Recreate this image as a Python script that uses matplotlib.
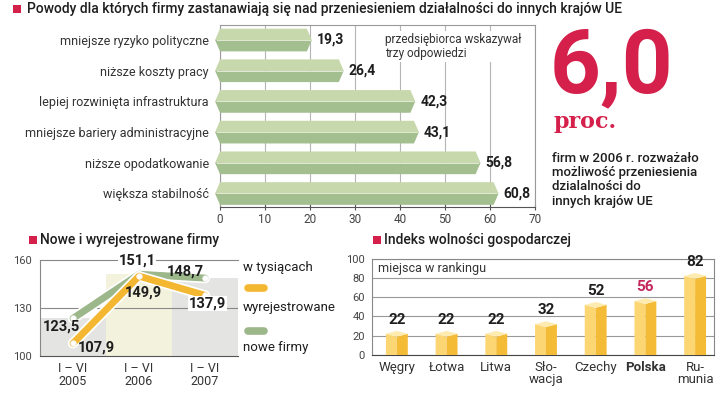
import matplotlib.pyplot as plt
import matplotlib.patheffects as pe
from matplotlib.patches import Polygon, Rectangle
from matplotlib.lines import Line2D

plt.rcParams['font.family'] = ['Roboto', 'DejaVu Sans']

# Powody przeniesienia działalności (%)
reasons = ["mniejsze ryzyko polityczne", "niższe koszty pracy",
           "lepiej rozwinięta infrastruktura", "mniejsze bariery administracyjne",
           "niższe opodatkowanie", "większa stabilność"]
reason_vals = [19.3, 26.4, 42.3, 43.1, 56.8, 60.8]

# Nowe i wyrejestrowane firmy (tys.)
periods = ["I – VI\n2005", "I – VI\n2006", "I – VI\n2007"]
new_firms = [123.5, 151.1, 148.7]
deregistered = [107.9, 149.9, 137.9]

# Indeks wolności gospodarczej
countries = ["Węgry", "Łotwa", "Litwa", "Sło-\nwacja", "Czechy", "Polska", "Ru-\nmunia"]
rank = [22, 22, 22, 32, 52, 56, 82]

W, H = 720, 394
RED = '#d4204b'
GREEN = '#9cb88a'
ORANGE = '#f4b731'
TXT = '#1e1e1e'

fig = plt.figure(figsize=(7.2, 3.94), dpi=100)


def box(l, t, r, b):
    return fig.add_axes([l / W, 1 - b / H, (r - l) / W, (b - t) / H])


def ftext(x, y, s, **kw):
    return fig.text(x / W, 1 - y / H, s, **kw)


def square(x, y, s=8):
    fig.add_artist(Rectangle((x / W, 1 - (y + s) / H), s / W, s / H,
                             transform=fig.transFigure, color=RED, lw=0))


def fmt(v):
    return f"{v:.1f}".replace(".", ",")


# --- top chart ---
square(13, 5)
ftext(27, 9, "Powody dla których firmy zastanawiają się nad przeniesieniem działalności do innych krajów UE",
      fontsize=10, color=TXT, va='center', fontweight='medium')

ax = box(220, 25, 535, 207)
ax.set_xlim(0, 70)
ax.set_ylim(5.44, -0.49)
h = 0.37
for i, v in enumerate(reason_vals):
    ax.add_patch(Polygon([(-1.1, i), (0, i - h), (v, i - h), (v + 1.1, i)],
                         fc='#c8d8ad', ec='none', zorder=3, clip_on=False))
    ax.add_patch(Polygon([(-1.1, i), (v + 1.1, i), (v, i + h), (0, i + h)],
                         fc='#a3bf8f', ec='none', zorder=3, clip_on=False))
    ax.plot([-0.6, v + 0.6], [i, i], color='#e2ead3', lw=0.7, zorder=4, clip_on=False)
    ax.text(v + 2.2, i, fmt(v), fontsize=10, fontweight='bold', va='center', ha='left', color=TXT)

ax.set_yticks(range(len(reasons)))
ax.set_yticklabels(reasons, fontsize=9, color='#333')
ax.tick_params(axis='y', length=0, pad=8)
ax.set_xticks(range(0, 71, 10))
ax.tick_params(axis='x', direction='inout', length=4, color='#555', labelsize=8.5,
               labelcolor='#444', pad=2)
ax.grid(axis='x', color='#b5b5b5', lw=0.8, zorder=0.5)
ax.set_axisbelow(True)
for s in ['top', 'right', 'left']:
    ax.spines[s].set_color('#9a9a9a')
    ax.spines[s].set_linewidth(0.8)
ax.spines['bottom'].set_color('#555')
ax.text(36.6, -0.22, "przedsiębiorca wskazywał\ntrzy odpowiedzi", fontsize=8.5, color='#333',
        va='top', ha='left', linespacing=1.05, zorder=2,
        bbox=dict(fc='white', ec='none', pad=1.5))

# --- 6,0 proc. ---
ftext(550, 92, "6,0", fontsize=64, fontweight='bold', color=RED, va='baseline')
ftext(553, 128, "proc.", family='DejaVu Serif', fontweight='bold', fontsize=16, color=RED,
      va='baseline')
ftext(552, 152, "firm w 2006 r. rozważało\nmożliwość przeniesienia\ndzialalności do\ninnych krajów UE",
      fontsize=9.5, color=TXT, va='top', linespacing=1.12, fontweight='medium')

# --- bottom left ---
square(29, 236)
ftext(40, 240, "Nowe i wyrejestrowane firmy", fontsize=10, color=TXT, va='center', fontweight='medium')

ax2 = box(40, 260, 238, 356)
xs = list(range(len(periods)))
ax2.set_xlim(-0.5, 2.5)
ax2.set_ylim(100, 160)
ax2.bar(xs, new_firms, width=1.0, color=['#e4e4e2', '#f3f2dd', '#e4e4e2'], zorder=0)
ax2.axhline(130, color='#888', lw=0.8, zorder=1)
halo = [pe.Stroke(linewidth=7.5, foreground='white'), pe.Normal()]
for series, col, z in [(new_firms, GREEN, 3), (deregistered, ORANGE, 4)]:
    ax2.plot(xs, series, color=col, lw=5, solid_capstyle='round', solid_joinstyle='round',
             path_effects=halo, zorder=z, clip_on=False)
    ax2.plot(xs, series, ls='none', marker='o', ms=4, mfc='white', mec='#f4f4f4', mew=0.5,
             zorder=z + 0.5, clip_on=False)

offs_new = [(-8, -6), (-1.5, 9.5), (-14, 5)]
offs_der = [(17, -3), (3, -12), (2, -6)]
for i in xs:
    ax2.annotate(fmt(new_firms[i]), (i, new_firms[i]), xytext=offs_new[i], textcoords='offset points',
                 ha='center', va='center', fontsize=10.5, fontweight='bold', color=TXT, zorder=5,
                 bbox=dict(fc='white', ec='none', pad=0.5) if i == 1 else None)
    ax2.annotate(fmt(deregistered[i]), (i, deregistered[i]), xytext=offs_der[i], textcoords='offset points',
                 ha='center', va='center', fontsize=10.5, fontweight='bold', color=TXT, zorder=5,
                 bbox=dict(fc='white', ec='none', pad=0.5) if i == 2 else None)

ax2.set_xticks(xs)
ax2.set_xticklabels(periods, fontsize=9, color='#333', linespacing=1.0)
ax2.set_yticks([100, 130, 160])
ax2.tick_params(axis='both', length=0, labelsize=8, labelcolor='#444')
ax2.tick_params(axis='x', labelsize=9, labelcolor='#333', pad=4)
ax2.tick_params(axis='y', pad=6)
for s in ['top', 'left']:
    ax2.spines[s].set_color('#888')
    ax2.spines[s].set_linewidth(0.8)
ax2.spines['right'].set_visible(False)
ax2.spines['bottom'].set_color('#555')

ftext(243, 267, "w tysiącach", fontsize=9.5, color=TXT, va='center')
fig.add_artist(Line2D([248 / W, 264 / W], [1 - 288 / H] * 2, color=ORANGE, lw=5.5,
                      solid_capstyle='round'))
ftext(243, 308, "wyrejestrowane", fontsize=9.5, color=TXT, va='center')
fig.add_artist(Line2D([248 / W, 264 / W], [1 - 331 / H] * 2, color=GREEN, lw=5.5,
                      solid_capstyle='round'))
ftext(243, 347, "nowe firmy", fontsize=9.5, color=TXT, va='center')

# --- bottom right ---
square(373, 236)
ftext(384, 240, "Indeks wolności gospodarczej", fontsize=10, color=TXT, va='center', fontweight='medium')

ax3 = box(372, 258.6, 714, 355)
ax3.set_xlim(-0.5, 6.38)
ax3.set_ylim(0, 100)
w, d = 0.22, 3
for i, v in enumerate(rank):
    ax3.add_patch(Polygon([(i - w, 0), (i, 0), (i, v - d), (i - w, v)], fc='#fbd673', ec='none', zorder=3))
    ax3.add_patch(Polygon([(i, 0), (i + w, 0), (i + w, v), (i, v - d)], fc='#f4bb36', ec='none', zorder=3))
    ax3.add_patch(Polygon([(i - w, v), (i, v - d), (i + w, v), (i, v + d)], fc='#fdebb0', ec='none',
                          zorder=3))
    col = '#c4285a' if countries[i] == "Polska" else TXT
    ax3.annotate(str(v), (i, v + d), xytext=(0, 3), textcoords='offset points', ha='center',
                 va='bottom', fontsize=11, fontweight='bold', color=col)

ax3.set_xticks(range(len(countries)))
ax3.set_xticklabels(countries, fontsize=9.5, color='#333', linespacing=0.95)
for lbl in ax3.get_xticklabels():
    if lbl.get_text() == "Polska":
        lbl.set_fontweight('bold')
ax3.set_yticks(range(0, 101, 20))
ax3.tick_params(axis='both', length=0, labelsize=8, labelcolor='#444')
ax3.tick_params(axis='x', labelsize=9.5, labelcolor='#333', pad=4)
ax3.tick_params(axis='y', pad=5)
ax3.grid(axis='y', color='#999', lw=0.8, zorder=0.5)
ax3.set_axisbelow(True)
for s in ['top', 'right', 'left']:
    ax3.spines[s].set_color('#888')
    ax3.spines[s].set_linewidth(0.8)
ax3.spines['bottom'].set_color('#444')
ax3.text(-0.38, 90, "miejsca w rankingu", fontsize=9, color='#333', va='center', ha='left')

fig.savefig("out.png", dpi=100)
